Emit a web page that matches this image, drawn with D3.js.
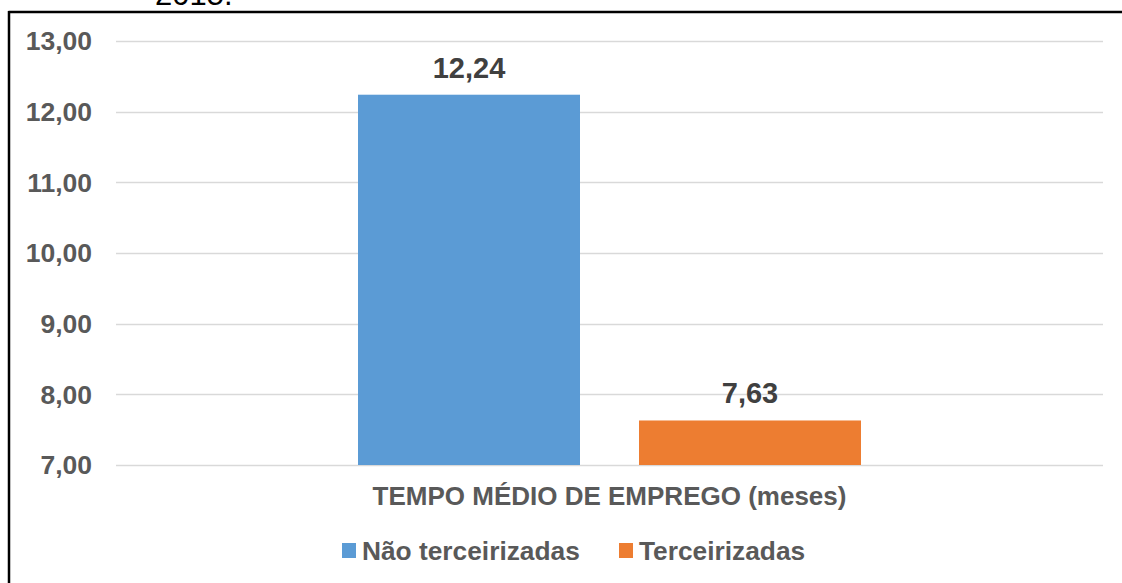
<!DOCTYPE html>
<html><head><meta charset="utf-8">
<script src="https://cdn.jsdelivr.net/npm/d3@7"></script>
<style>body{margin:0;background:#fff;} svg{display:block;font-family:"Liberation Sans",Arial,sans-serif;}</style>
</head><body>
<script>
const categories = ["TEMPO MÉDIO DE EMPREGO (meses)"];
const seriesNames = ["Não terceirizadas", "Terceirizadas"];
const seriesValues = [12.24, 7.63];
const seriesColors = ["#5B9BD5", "#ED7D31"];
const yTicks = [7, 8, 9, 10, 11, 12, 13];

const W = 1122, H = 583;
const svg = d3.select("body").append("svg").attr("width", W).attr("height", H);

// cut-off caption above the frame (partially visible in the original)
svg.append("text").attr("x", 155).attr("y", 5).attr("font-size", 31).attr("fill", "#000").text("2015.");

// frame
svg.append("line").attr("x1", 8.5).attr("x2", W).attr("y1", 12).attr("y2", 12).attr("stroke", "#000").attr("stroke-width", 2.5);
svg.append("line").attr("x1", 9).attr("x2", 9).attr("y1", 11).attr("y2", H).attr("stroke", "#000").attr("stroke-width", 2.5);

const x0 = d3.scaleBand().domain(categories).range([116, 1103]);
const y = d3.scaleLinear().domain([7, 13]).range([465, 41]);
const x1 = d3.scaleBand().domain(seriesNames).range([358, 861]).paddingInner(0.21);

// gridlines
svg.append("g").selectAll("line").data(yTicks).join("line")
  .attr("x1", 116).attr("x2", 1103)
  .attr("y1", d => Math.round(y(d)) + 0.5).attr("y2", d => Math.round(y(d)) + 0.5)
  .attr("stroke", "#D9D9D9").attr("stroke-width", 1.5);

// y tick labels
const fmt = d => d3.format(".2f")(d).replace(".", ",");
svg.append("g").selectAll("text").data(yTicks).join("text")
  .attr("x", 92).attr("y", d => y(d)).attr("dy", "0.35em")
  .attr("text-anchor", "end").attr("font-size", 26.5).attr("font-weight", "bold")
  .attr("fill", "#595959").text(fmt);

// bars
const data = seriesNames.map((s, i) => ({s, v: seriesValues[i], c: seriesColors[i]}));
svg.append("g").selectAll("rect").data(data).join("rect")
  .attr("x", d => x1(d.s)).attr("width", x1.bandwidth())
  .attr("y", d => y(d.v)).attr("height", d => y(7) - y(d.v))
  .attr("fill", d => d.c);

// value labels
svg.append("g").selectAll("text").data(data).join("text")
  .attr("x", d => x1(d.s) + x1.bandwidth() / 2).attr("y", d => y(d.v) - 17)
  .attr("text-anchor", "middle").attr("font-size", 29).attr("font-weight", "bold")
  .attr("fill", "#404040").text(d => fmt(d.v));

// category label
svg.append("text").attr("x", x0(categories[0]) + x0.bandwidth() / 2).attr("y", 505)
  .attr("text-anchor", "middle").attr("font-size", 26).attr("font-weight", "bold")
  .attr("fill", "#595959").text(categories[0]);

// legend
const legendX = [342, 619];
const lg = svg.append("g").selectAll("g").data(data).join("g")
  .attr("transform", (d, i) => `translate(${legendX[i]},0)`);
lg.append("rect").attr("x", 0).attr("y", 543).attr("width", 14).attr("height", 15).attr("fill", d => d.c);
lg.append("text").attr("x", 20).attr("y", 560).attr("font-size", 26.3).attr("font-weight", "bold")
  .attr("fill", "#595959").text(d => d.s);
</script>
</body></html>
